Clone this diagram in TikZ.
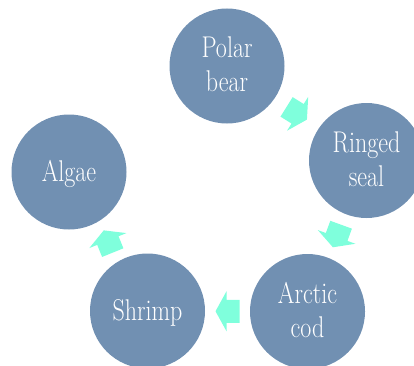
\documentclass[tikz,border=0pt]{standalone}
\usetikzlibrary{calc}
\definecolor{circfill}{RGB}{113,144,178}
\definecolor{arrfill}{RGB}{127,255,220}
\newcommand{\tallstack}[2]{\scalebox{1}[1.25]{\fontsize{24}{27.2}\selectfont\begin{tabular}[t]{@{}c@{}}#1\\#2\end{tabular}}}
\newcommand{\tallline}[1]{\scalebox{1}[1.25]{#1}}
\tikzset{
  circ/.style={circle, fill=circfill, minimum size=115pt, inner sep=0pt},
  lbl/.style={text=white, font=\fontsize{24}{27.2}\selectfont, inner sep=0pt, anchor=base},
  blockarrow/.pic={\fill[arrfill] (-12,-11.5) -- (1,-11.5) -- (1,-20) -- (12,0) -- (1,20) -- (1,11.5) -- (-12,11.5) -- cycle;}
}
\begin{document}
\begin{tikzpicture}[x=1pt,y=1pt]
\clip (0,0) rectangle (414,365);
\node[circ] (pb) at (227,299) {};
\node[circ] (rs) at (366.5,204.5) {};
\node[circ] (ac) at (307.5,53.5) {};
\node[circ] (sh) at (147.5,54) {};
\node[circ] (al) at (69,193) {};
\node[lbl] (pbt) at ([yshift=9pt]pb.center) {\tallstack{Polar}{bear}};
\node[lbl] (rst) at ([yshift=8pt]rs.center) {\tallstack{Ringed}{seal}};
\node[lbl] (act) at ([yshift=8pt]ac.center) {\tallstack{Arctic}{cod}};
\node[lbl] (sht) at ([yshift=-9.7pt]sh.center) {\tallline{Shrimp}};
\node[lbl] (alt) at ([yshift=-9.7pt]al.center) {\tallline{Algae}};
\pic[rotate=-32] at ($(pb)!0.5!(rs)$) {blockarrow};
\pic[rotate=-110] at ($(rs)!0.5!(ac)$) {blockarrow};
\pic[rotate=180] at ($(ac)!0.5!(sh)$) {blockarrow};
\pic[rotate=112] at ($(sh)!0.5!(al)$) {blockarrow};
\end{tikzpicture}
\end{document}
